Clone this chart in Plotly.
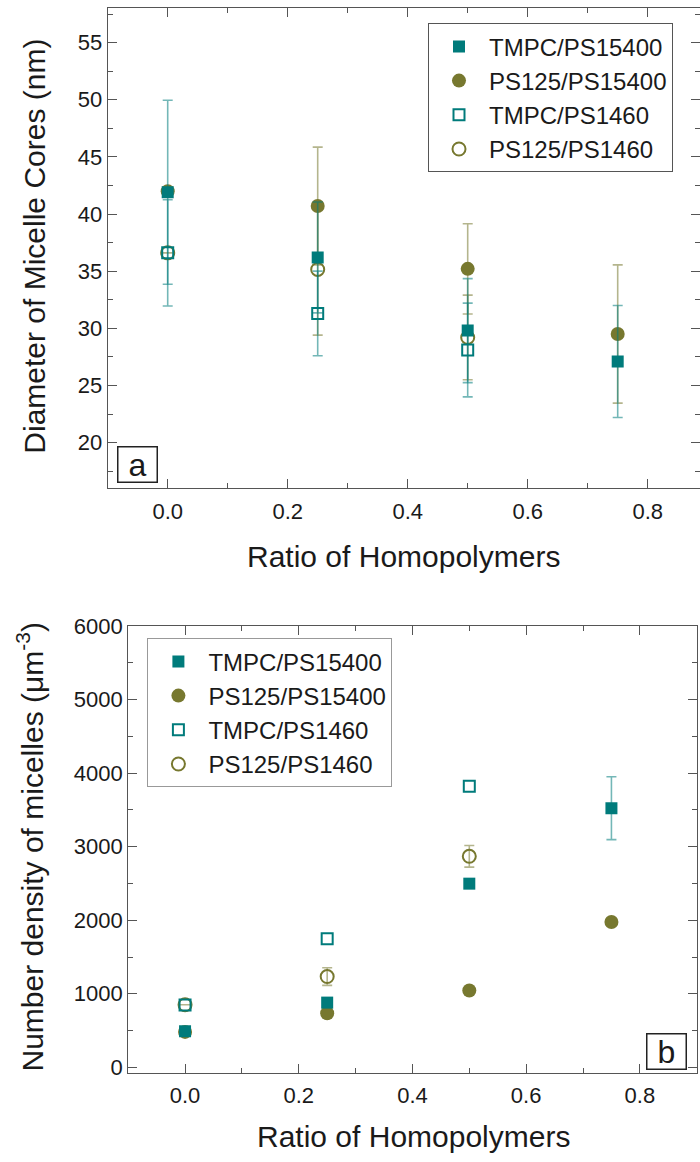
import plotly.graph_objects as go

W, H = 700, 1162

# ---------------- data ----------------
ratio = [0.0, 0.25, 0.5, 0.75]

# panel a: diameter of micelle cores (nm)
d_tmpc_15400 = [41.9, 36.2, 29.8, 27.1]
e_tmpc_15400 = [8.05, 4.85, 4.55, 4.9]
d_ps125_15400 = [42.0, 40.7, 35.2, 29.5]
e_ps125_15400 = [0.0, 5.15, 3.95, 6.05]
d_tmpc_1460 = [36.6, 31.3, 28.1, None]
e_tmpc_1460 = [4.65, 3.7, 4.1, None]
d_ps125_1460 = [36.6, 35.15, 29.2, None]
e_ps125_1460 = [0.0, 5.75, 3.7, None]

# panel b: number density of micelles (um^-3)
n_tmpc_15400 = [490, 880, 2497, 3523]
ne_tmpc_15400 = [0, 0, 0, 427]
n_ps125_15400 = [482, 736, 1044, 1975]
n_tmpc_1460 = [849, 1748, 3823, None]
n_ps125_1460 = [850, 1234, 2869, None]
ne_ps125_1460 = [0, 120, 147, None]

names = ["TMPC/PS15400", "PS125/PS15400", "TMPC/PS1460", "PS125/PS1460"]

TEAL = "#007b7b"
OLIVE = "#77782f"
TEAL_E = "rgba(0,123,123,0.55)"
OLIVE_E = "rgba(119,120,47,0.55)"
FONT = "Liberation Sans, Arial, sans-serif"
AX = "#555555"
TXT = "#1a1a1a"

fig = go.Figure()


def add(y, err, name, color, ecolor, symbol, size, lw, xa, ya, legend, rank):
    marker = dict(symbol=symbol, size=size, color=color,
                  line=dict(color=color, width=lw))
    ey = None
    if err is not None:
        ey = dict(type="data", array=err, visible=True, color=ecolor,
                  thickness=1.6, width=5)
    fig.add_trace(go.Scatter(x=ratio, y=y, mode="markers", name=name,
                             marker=marker, error_y=ey, xaxis=xa, yaxis=ya,
                             legend=legend, legendrank=rank, showlegend=True))


STYLES = {
    0: (TEAL, TEAL_E, "square", 12, 0),
    1: (OLIVE, OLIVE_E, "circle", 14, 0),
    2: (TEAL, TEAL_E, "square-open", 11, 2),
    3: (OLIVE, OLIVE_E, "circle-open", 13, 2),
}

# drawing order: olive under teal, open under filled where overlapping
for (xa, ya, leg, data) in [
    ("x", "y", "legend", [
        (d_ps125_1460, e_ps125_1460, 3), (d_ps125_15400, e_ps125_15400, 1),
        (d_tmpc_1460, e_tmpc_1460, 2), (d_tmpc_15400, e_tmpc_15400, 0)]),
    ("x2", "y2", "legend2", [
        (n_ps125_1460, ne_ps125_1460, 3), (n_ps125_15400, None, 1),
        (n_tmpc_1460, None, 2), (n_tmpc_15400, ne_tmpc_15400, 0)]),
]:
    for y, e, idx in data:
        c, ec, sym, sz, lw = STYLES[idx]
        add(y, e, names[idx], c, ec, sym, sz, lw, xa, ya, leg, idx)

axis_common = dict(showline=True, linecolor=AX, linewidth=1, mirror="allticks",
                   ticks="inside", ticklen=9, tickwidth=1, tickcolor=AX,
                   showgrid=False, zeroline=False,
                   tickfont=dict(family=FONT, size=22, color=TXT),
                   automargin=False)

fig.update_layout(
    width=W, height=H,
    margin=dict(l=0, r=0, t=0, b=0),
    paper_bgcolor="white", plot_bgcolor="white",
    xaxis=dict(domain=[107.7 / W, 1.0], range=[-0.1, -0.1 + (W - 107.7) / 600.0],
               dtick=0.2, tick0=0, tickformat=".1f", ticklabelstandoff=3,
               minor=dict(ticks="inside", ticklen=5, dtick=0.1, tick0=0, tickcolor=AX),
               anchor="y", **axis_common),
    yaxis=dict(domain=[1 - 488.3 / H, 1 - 8.3 / H], range=[16, 58],
               dtick=5, tick0=0,
               minor=dict(ticks="inside", ticklen=5, dtick=2.5, tick0=0, tickcolor=AX),
               anchor="x", **axis_common),
    xaxis2=dict(domain=[128.2 / W, 696.7 / W], range=[-0.1, 0.9],
                dtick=0.2, tick0=0, tickformat=".1f", ticklabelstandoff=3,
                minor=dict(ticks="inside", ticklen=5, dtick=0.1, tick0=0, tickcolor=AX),
                anchor="y2", **axis_common),
    yaxis2=dict(domain=[1 - 1072.7 / H, 1 - 626 / H], range=[-73, 6000],
                dtick=1000, tick0=0,
                minor=dict(ticks="inside", ticklen=5, dtick=500, tick0=0, tickcolor=AX),
                anchor="x2", **axis_common),
    legend=dict(x=428 / W, y=1 - 23.3 / H, xanchor="left", yanchor="top",
                bordercolor="#555555", borderwidth=1, bgcolor="white",
                font=dict(family=FONT, size=24, color=TXT),
                tracegroupgap=0, itemwidth=50),
    legend2=dict(x=147.4 / W, y=1 - 638.3 / H, xanchor="left", yanchor="top",
                 bordercolor="#999999", borderwidth=1, bgcolor="white",
                 font=dict(family=FONT, size=24, color=TXT),
                 tracegroupgap=0, itemwidth=50),
    showlegend=True,
)

ann = [
    dict(text="Diameter of Micelle Cores (nm)", x=35 / W, y=1 - 246.7 / H,
         textangle=-90, font=dict(size=30)),
    dict(text="Number density of micelles (\u03bcm<sup>-3</sup>)", x=30 / W,
         y=1 - 847.5 / H, textangle=-90, font=dict(size=30)),
    dict(text="Ratio of Homopolymers", x=403 / W, y=1 - 556 / H, font=dict(size=30)),
    dict(text="Ratio of Homopolymers", x=413 / W, y=1 - 1136 / H, font=dict(size=30)),
    dict(text="a", x=137.5 / W, y=1 - 465 / H, font=dict(size=32),
         bordercolor="#222222", borderwidth=1.5, borderpad=0, width=38, height=34,
         bgcolor="white"),
    dict(text="b", x=666 / W, y=1 - 1051.5 / H, font=dict(size=32),
         bordercolor="#222222", borderwidth=1.5, borderpad=0, width=38, height=34,
         bgcolor="white"),
]
for a in ann:
    a["xref"] = "paper"
    a["yref"] = "paper"
    a["showarrow"] = False
    a["xanchor"] = "center"
    a["yanchor"] = "middle"
    a["font"].setdefault("family", FONT)
    a["font"].setdefault("color", TXT)
    fig.add_annotation(**a)

fig.write_html("out.html")
